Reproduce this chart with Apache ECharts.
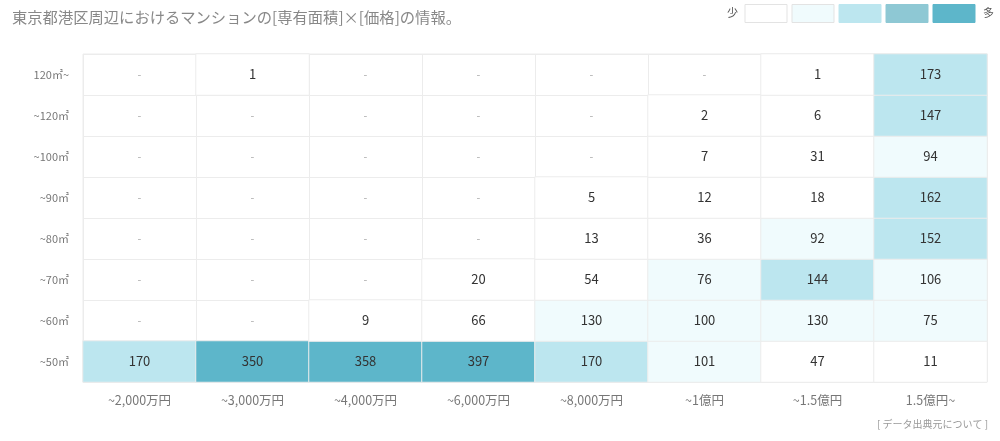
<!DOCTYPE html>
<html><head><meta charset="utf-8">
<script src="https://cdn.jsdelivr.net/npm/echarts@6/dist/echarts.min.js"></script>
<style>html,body{margin:0;padding:0;background:#fff}#c{width:1000px;height:441px}</style>
</head><body><div id="c"></div>
<script>
const titleText = '東京都港区周辺におけるマンションの[専有面積]×[価格]の情報。';
const priceLabels = ['~2,000万円','~3,000万円','~4,000万円','~6,000万円','~8,000万円','~1億円','~1.5億円','1.5億円~'];
// bottom to top
const areaLabels = ['~50㎡','~60㎡','~70㎡','~80㎡','~90㎡','~100㎡','~120㎡','120㎡~'];
// rows listed bottom to top, matching areaLabels; null = '-'
const row50  = [170, 350, 358, 397, 170, 101, 47, 11];
const row60  = [null, null, 9, 66, 130, 100, 130, 75];
const row70  = [null, null, null, 20, 54, 76, 144, 106];
const row80  = [null, null, null, null, 13, 36, 92, 152];
const row90  = [null, null, null, null, 5, 12, 18, 162];
const row100 = [null, null, null, null, null, 7, 31, 94];
const row120 = [null, null, null, null, null, 2, 6, 147];
const row120p= [null, 1, null, null, null, null, 1, 173];
const rows = [row50, row60, row70, row80, row90, row100, row120, row120p];
const levelColors = ['#ffffff', '#f0fbfd', '#bce6ef', '#8ec8d4', '#5db6ca'];
const levelBounds = [0, 70, 140, 200, 300];

const heat = [], blanks = [];
rows.forEach((r, yi) => r.forEach((v, xi) => {
  if (v === null) blanks.push([xi, yi]); else heat.push([xi, yi, v]);
}));

const FONT = '"Noto Sans CJK JP", "Noto Sans", sans-serif';
const chart = echarts.init(document.getElementById('c'));

const legendGraphics = [];
const boxX = [745, 792, 839, 886, 933];
levelColors.forEach((c, i) => legendGraphics.push({
  type: 'rect', shape: {x: boxX[i], y: 4.5, width: 42, height: 18},
  style: {fill: c, stroke: i < 2 ? '#e3e3e3' : c, lineWidth: 1}
}));
legendGraphics.push({type:'text', x:727, y:7, style:{text:'少', font:'11px ' + FONT, fill:'#555'}});
legendGraphics.push({type:'text', x:983, y:7, style:{text:'多', font:'11px ' + FONT, fill:'#555'}});
legendGraphics.push({type:'text', x:877, y:419, style:{text:'[ データ出典元について ]', font:'10px ' + FONT, fill:'#999'}});

chart.setOption({
  animation: false,
  textStyle: {fontFamily: FONT},
  title: {text: titleText, left: 7, top: 5, textStyle: {fontSize: 15.3, fontWeight: 'normal', color: '#888', fontFamily: FONT}},
  grid: {left: 83, right: 13, top: 54, bottom: 59, show: true, borderColor: '#ececec', borderWidth: 1},
  xAxis: {type: 'category', data: priceLabels,
    axisLine: {show: false}, axisTick: {show: false},
    axisLabel: {color: '#777', fontSize: 12.5, margin: 12, fontFamily: FONT},
    splitLine: {show: true, lineStyle: {color: '#ececec'}}},
  yAxis: {type: 'category', data: areaLabels,
    axisLine: {show: false}, axisTick: {show: false},
    axisLabel: {color: '#777', fontSize: 11, margin: 14, fontFamily: FONT},
    splitLine: {show: true, lineStyle: {color: '#ececec'}}},
  visualMap: {show: false, type: 'piecewise', seriesIndex: 0, dimension: 2,
    pieces: levelBounds.map((b, i) => ({gte: b, lt: i < levelBounds.length - 1 ? levelBounds[i+1] : Infinity, color: levelColors[i]}))},
  graphic: legendGraphics,
  series: [
    {type: 'heatmap', data: heat,
      itemStyle: {borderColor: '#ececec', borderWidth: 1},
      label: {show: true, color: '#333', fontSize: 13, fontFamily: FONT},
      emphasis: {disabled: true}},
    {type: 'scatter', data: blanks, symbolSize: 0, silent: true,
      label: {show: true, position: 'inside', formatter: '-', color: '#999', fontSize: 11}}
  ]
});
</script></body></html>
